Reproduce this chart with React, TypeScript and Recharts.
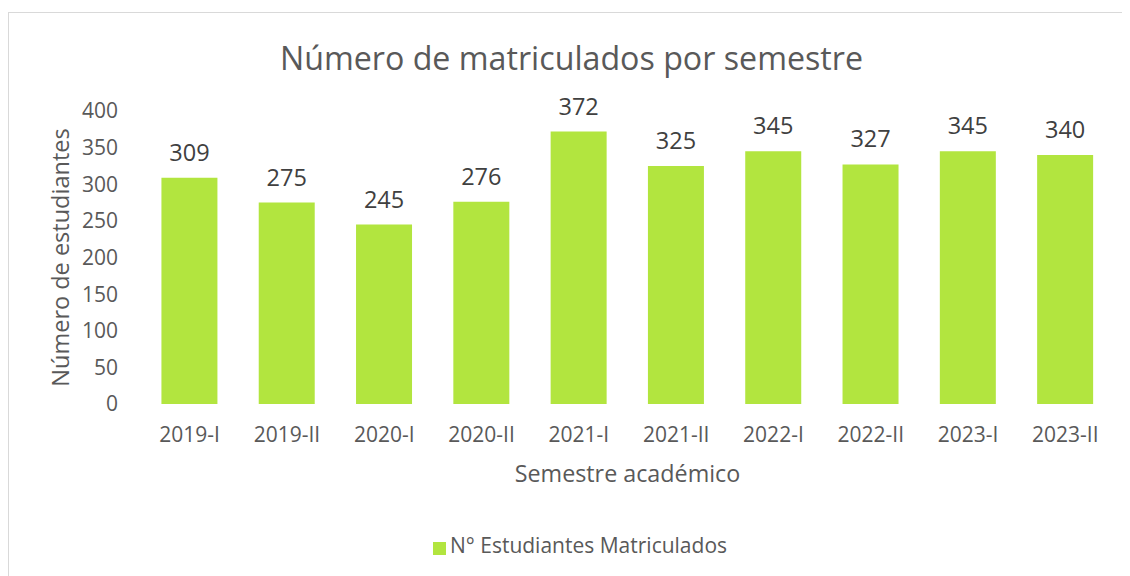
import React from 'react';
import { BarChart, Bar, XAxis, YAxis, Legend, LabelList } from 'recharts';

const semesters = ['2019-I', '2019-II', '2020-I', '2020-II', '2021-I', '2021-II', '2022-I', '2022-II', '2023-I', '2023-II'];
const enrolled = [309, 275, 245, 276, 372, 325, 345, 327, 345, 340];
const yTicks = [0, 50, 100, 150, 200, 250, 300, 350, 400];

const seriesName = 'N° Estudiantes Matriculados';
const titleText = 'Número de matriculados por semestre';
const xTitle = 'Semestre académico';
const yTitle = 'Número de estudiantes';

const data = semesters.map((s, i) => ({ semestre: s, value: enrolled[i] }));

const FONT = '"Open Sans", sans-serif';
const GREY = '#595959';
const BAR = '#B2E53F';

export default function App() {
  return (
    <div
      style={{
        position: 'relative',
        width: 1113,
        height: 570,
        marginTop: 4,
        border: '1px solid #d9d9d9',
        background: '#fff',
        fontFamily: FONT,
      }}
    >
      <div
        style={{
          position: 'absolute',
          top: 25,
          left: 6,
          width: 1113,
          textAlign: 'center',
          fontSize: 32.2,
          lineHeight: '40px',
          color: GREY,
          fontFamily: FONT,
        }}
      >
        {titleText}
      </div>
      <BarChart
        width={1113}
        height={570}
        data={data}
        margin={{ top: 98, right: 8, left: 0, bottom: 99 }}
        barCategoryGap="21%"
      >
        <XAxis
          dataKey="semestre"
          height={80}
          tickLine={false}
          axisLine={false}
          tickSize={0}
          tickMargin={23}
          interval={0}
          tick={{ fill: GREY, fontSize: 21, fontFamily: FONT }}
          label={{ value: xTitle, position: 'insideBottom', offset: 2, fill: GREY, fontSize: 23.3, fontFamily: FONT }}
        />
        <YAxis
          width={132}
          domain={[0, 400]}
          ticks={yTicks}
          tickLine={false}
          axisLine={false}
          tickSize={0}
          tickMargin={23}
          tick={{ fill: GREY, fontSize: 21, fontFamily: FONT }}
          label={{
            value: yTitle,
            angle: -90,
            position: 'insideLeft',
            offset: 52,
            fill: GREY,
            fontSize: 23.5,
            fontFamily: FONT,
            style: { textAnchor: 'middle' },
          }}
        />
        <Legend
          layout="horizontal"
          verticalAlign="middle"
          align="center"
          iconType="square"
          iconSize={13}
          wrapperStyle={{ top: 518, left: 19.5, width: 1113 }}
          formatter={(v: string) => (
            <span style={{ color: GREY, fontSize: 21, fontFamily: FONT }}>{v}</span>
          )}
        />
        <Bar dataKey="value" name={seriesName} fill={BAR} isAnimationActive={false}>
          <LabelList
            dataKey="value"
            position="top"
            offset={17}
            fill="#404040"
            fontSize={23.5}
            fontFamily={FONT}
          />
        </Bar>
      </BarChart>
    </div>
  );
}
